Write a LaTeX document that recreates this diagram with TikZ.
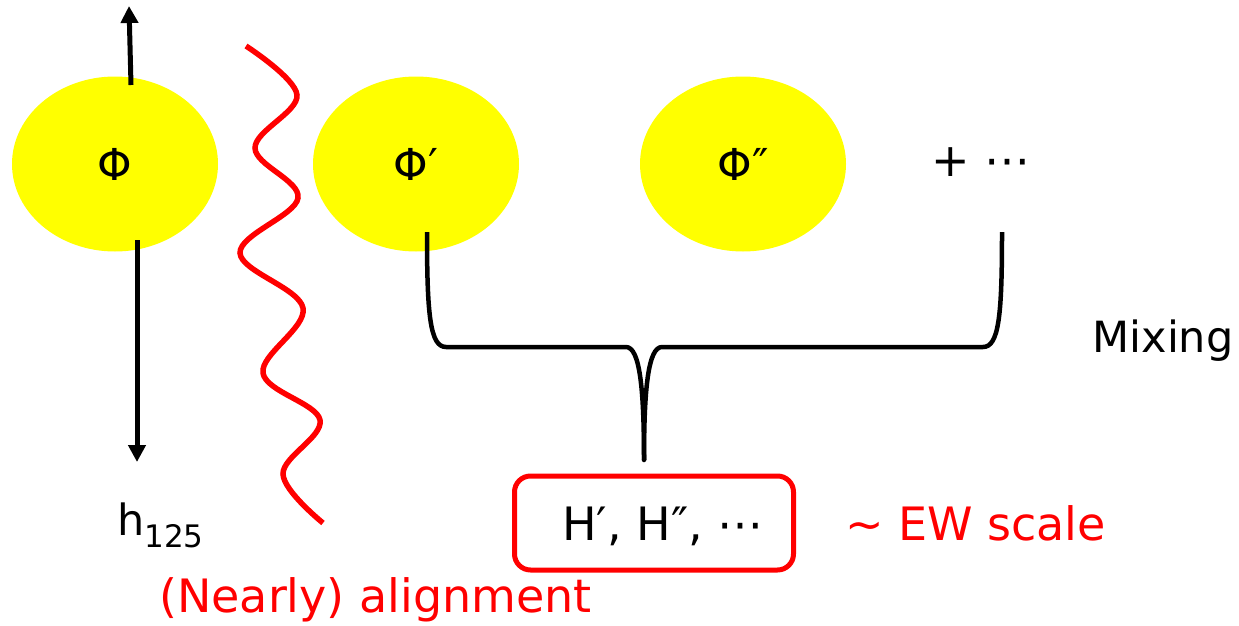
\documentclass[tikz,border=0pt]{standalone}
\usepackage{fontspec}
\setmainfont{DejaVu Sans}
\usetikzlibrary{arrows.meta,shapes.geometric}
\definecolor{myyellow}{RGB}{255,255,0}
\definecolor{myred}{RGB}{255,0,0}
\begin{document}
\begin{tikzpicture}[x=1pt,y=-1pt,
  blob/.style={ellipse,fill=myyellow,minimum width=206pt,minimum height=175pt,inner sep=0pt,font=\fontsize{44}{50}\selectfont},
  lbl/.style={inner sep=0pt,font=\fontsize{43}{50}\selectfont},
  big/.style={inner sep=0pt,font=\fontsize{46}{52}\selectfont},
  arr/.style={line width=5pt,-{Triangle[length=17pt,width=17pt]}},
  bracel/.style={line width=4.5pt,line join=round},
  wave/.style={myred,line width=5.5pt},
  hbox/.style={draw=myred,line width=5pt,rounded corners=16pt,minimum width=279pt,minimum height=94pt,inner sep=0pt}
]
\useasboundingbox (0,0) rectangle (1239,626);
\node[blob] (p1) at (115,164) {Φ};
\node[blob] (p2) at (416,164) {Φ′};
\node[blob] (p3) at (743,164) {Φ″};
\node[big] (dots) at (981,162) {+ ⋯};
\node[lbl,anchor=base] (mix) at (1163,352) {Mixing};

% arrows
\coordinate (upS) at (131,85);
\coordinate (upE) at (129,6);
\coordinate (dnS) at (137,240);
\coordinate (dnE) at (137,462);
\draw[arr] (upS) -- (upE);
\draw[arr] (dnS) -- (dnE);
\node[lbl,anchor=base west] (h) at (117,535) {h\raisebox{-12pt}{\fontsize{31}{36}\selectfont 125}};

% wave
\draw[wave] plot[smooth,tension=0.6] coordinates {(246,46) (297,95) (255,148) (298,198) (240,253) (303,308) (263,373) (320,420) (283,474) (323,523)};
\node[big,anchor=base west,text=myred] (align) at (159,612) {(Nearly) alignment};

% brace
\coordinate (bL) at (427,232);
\coordinate (bR) at (1002,232);
\coordinate (bC) at (644,460);
\draw[bracel,line cap=butt] (bL) .. controls (427,315) and (430,347) .. (446,347)
  -- (626,347) .. controls (640,347) and (644,390) .. (bC);
\draw[bracel,line cap=butt] (bR) .. controls (1002,315) and (999,347) .. (983,347)
  -- (662,347) .. controls (648,347) and (644,390) .. (bC);
\fill (bC) circle (2.25pt);

% box
\node[hbox] (hb) at (654,523) {};
\node[big,anchor=base] (htxt) at (663,540) {H′, H″, ⋯};
\node[big,anchor=base west,text=myred] (ew) at (845,540) {\textasciitilde\ EW scale};
\end{tikzpicture}
\end{document}
